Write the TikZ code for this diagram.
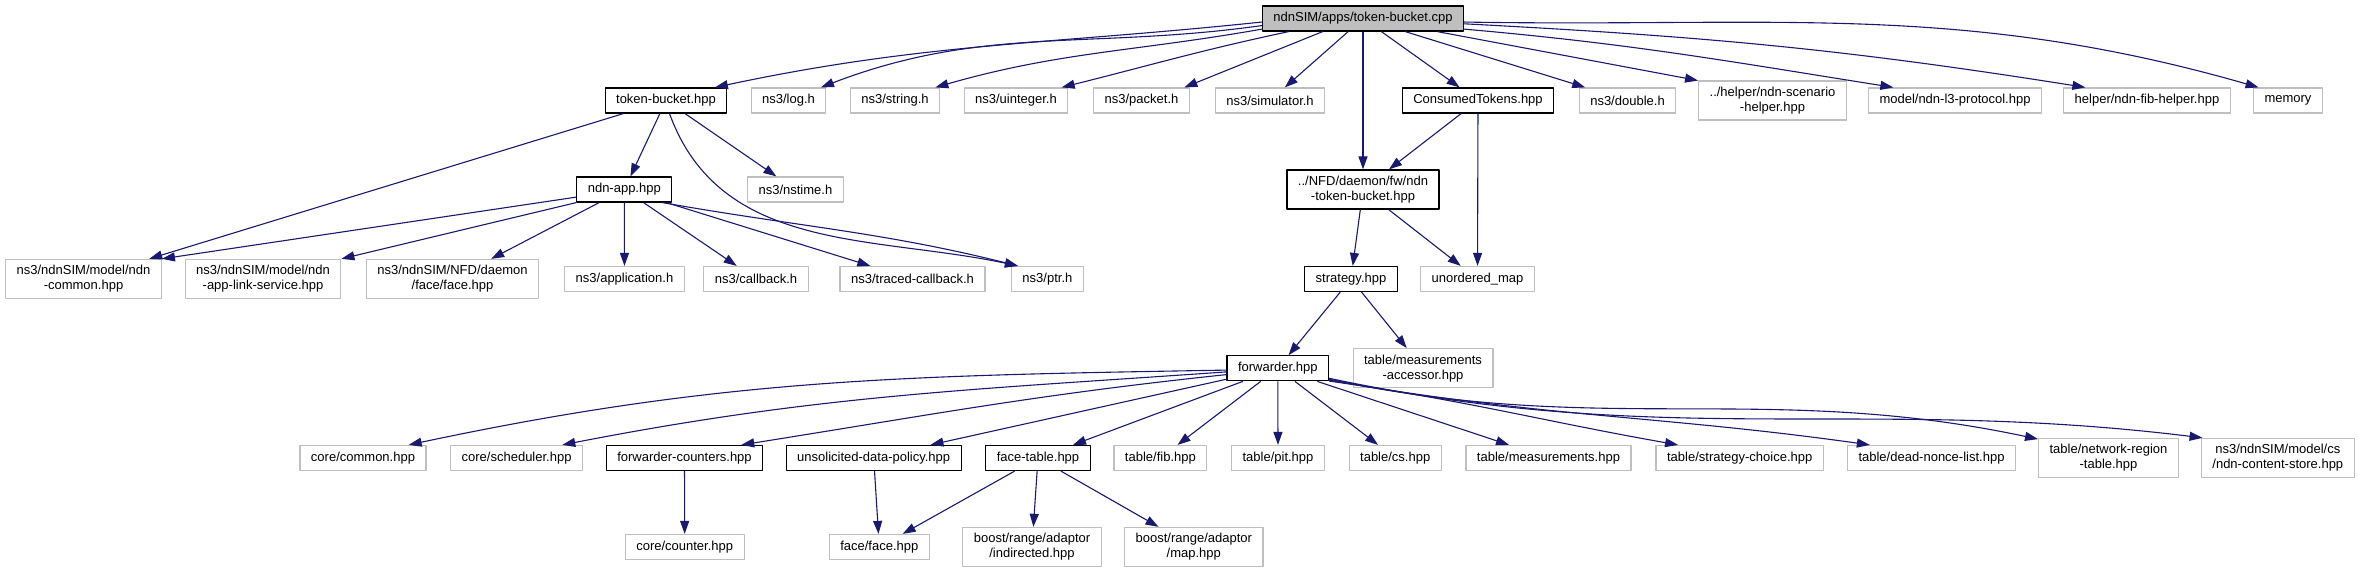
\documentclass[tikz,border=0pt]{standalone}
\usepackage{fontspec}
\setmainfont{Liberation Sans}
\usetikzlibrary{arrows.meta}
\definecolor{edgeblue}{HTML}{191970}
\definecolor{boxgray}{HTML}{BFBFBF}

\begin{document}
\begin{tikzpicture}[x=1pt, y=1pt, line join=round,
    file/.style={draw=boxgray, line width=1.2pt, fill=white,
      font=\fontsize{13}{15}\selectfont, align=center,
      inner xsep=11pt, inner ysep=6pt, minimum height=25pt},
    docfile/.style={file, draw=black},
    dep/.style={draw=edgeblue, line width=1.1pt,
      -{Triangle[length=13pt, width=9pt]}}]

    \useasboundingbox (0,0) rectangle (2359,-573);

    % 各段の高さ
    \pgfmathsetmacro{\yT}{-18.5}
    \pgfmathsetmacro{\yA}{-100.5}
    \pgfmathsetmacro{\yB}{-189.5}
    \pgfmathsetmacro{\yC}{-279}
    \pgfmathsetmacro{\yD}{-368.3}
    \pgfmathsetmacro{\yE}{-458}
    \pgfmathsetmacro{\yF}{-547}

    % ソースファイル
    \node[file, draw=black, fill=boxgray] (top) at (1363,\yT) {ndnSIM/apps/token-bucket.cpp};

    % 1段目
    \node[docfile] (tb) at (666,\yA) {token-bucket.hpp};
    \node[file] (log) at (788.5,\yA) {ns3/log.h};
    \node[file] (str) at (895,\yA) {ns3/string.h};
    \node[file] (uint) at (1016,\yA) {ns3/uinteger.h};
    \node[file] (pkt) at (1141.5,\yA) {ns3/packet.h};
    \node[file] (sim) at (1270,\yA) {ns3/simulator.h};
    \node[docfile] (ct) at (1478,\yA) {ConsumedTokens.hpp};
    \node[file] (dbl) at (1627.5,\yA) {ns3/double.h};
    \node[file] (scen) at (1772.5,\yA) {../helper/ndn-scenario\\-helper.hpp};
    \node[file] (l3) at (1955,\yA) {model/ndn-l3-protocol.hpp};
    \node[file] (fib) at (2147,\yA) {helper/ndn-fib-helper.hpp};
    \node[file] (mem) at (2288,\yA) {memory};

    % 2段目
    \node[docfile] (app) at (624.3,\yB) {ndn-app.hpp};
    \node[file] (nst) at (795.4,\yB) {ns3/nstime.h};
    \node[docfile] (ntb) at (1363,\yB) {../NFD/daemon/fw/ndn\\-token-bucket.hpp};

    % 3段目
    \node[file] (com) at (83.5,\yC) {ns3/ndnSIM/model/ndn\\-common.hpp};
    \node[file] (als) at (263,\yC) {ns3/ndnSIM/model/ndn\\-app-link-service.hpp};
    \node[file] (face) at (452.5,\yC) {ns3/ndnSIM/NFD/daemon\\/face/face.hpp};
    \node[file] (appl) at (624.5,\yC) {ns3/application.h};
    \node[file] (cb) at (756,\yC) {ns3/callback.h};
    \node[file] (tcb) at (912.5,\yC) {ns3/traced-callback.h};
    \node[file] (ptr) at (1047.4,\yC) {ns3/ptr.h};
    \node[docfile] (strat) at (1351,\yC) {strategy.hpp};
    \node[file] (umap) at (1477.5,\yC) {unordered\_map};

    % 4段目
    \node[docfile] (fwd) at (1277.8,\yD) {forwarder.hpp};
    \node[file] (macc) at (1423,\yD) {table/measurements\\-accessor.hpp};

    % 5段目
    \node[file] (ccom) at (363,\yE) {core/common.hpp};
    \node[file] (csch) at (516.6,\yE) {core/scheduler.hpp};
    \node[docfile] (fcnt) at (684.5,\yE) {forwarder-counters.hpp};
    \node[docfile] (udp) at (873.7,\yE) {unsolicited-data-policy.hpp};
    \node[docfile] (ftab) at (1038,\yE) {face-table.hpp};
    \node[file] (tfib) at (1160.4,\yE) {table/fib.hpp};
    \node[file] (tpit) at (1278,\yE) {table/pit.hpp};
    \node[file] (tcs) at (1395.2,\yE) {table/cs.hpp};
    \node[file] (tmeas) at (1548.5,\yE) {table/measurements.hpp};
    \node[file] (tsc) at (1739.7,\yE) {table/strategy-choice.hpp};
    \node[file] (tdnl) at (1931.5,\yE) {table/dead-nonce-list.hpp};
    \node[file] (tnrt) at (2108.5,\yE) {table/network-region\\-table.hpp};
    \node[file] (tcst) at (2277.8,\yE) {ns3/ndnSIM/model/cs\\/ndn-content-store.hpp};

    % 6段目
    \node[file] (ccnt) at (684.7,\yF) {core/counter.hpp};
    \node[file] (ff) at (879.3,\yF) {face/face.hpp};
    \node[file] (ind) at (1032,\yF) {boost/range/adaptor\\/indirected.hpp};
    \node[file] (bmap) at (1193.8,\yF) {boost/range/adaptor\\/map.hpp};

    % まっすぐな矢印
    \foreach \a/\b in {top/sim, top/ntb, top/ct, top/dbl, tb/com, tb/app, tb/nst,
        app/face, app/appl, app/cb, app/tcb, ct/ntb, ct/umap, ntb/strat, ntb/umap,
        strat/fwd, strat/macc, fwd/ftab, fwd/tfib, fwd/tpit, fwd/tcs, fwd/tmeas,
        fcnt/ccnt, udp/ff, ftab/ff, ftab/ind, ftab/bmap}
      \draw[dep] (\a) -- (\b);

    % 曲がった矢印（ソースファイルから）
    \draw[dep] (top.182) to[out=186, in=12] (tb.15);
    \draw[dep] (top.184) to[out=188, in=21] (log.22);
    \draw[dep] (top.186) to[out=190, in=16] (str.18);
    \draw[dep] (top.190) to[out=192, in=14] (uint.16);
    \draw[dep] (top.198) -- (pkt.17);
    \draw[dep] (top.-10) -- (scen.165);
    \draw[dep] (top.-6) to[out=-5, in=171] (l3.168);
    \draw[dep] (top.-3) to[out=-3, in=171] (fib.168);
    \draw[dep] (top.-2) to[out=-1, in=164] (mem.156);

    % token-bucket.hpp と ndn-app.hpp から
    \draw[dep] (tb.-75) to[out=-70, in=168] (ptr.156);
    \draw[dep] (app.189) -- (com.north east);
    \draw[dep] (app.south west) -- (als.north east);
    \draw[dep] (app.-19) to[out=-10, in=166] (ptr.156);

    % forwarder.hpp から
    \draw[dep] (fwd.182) to[out=181, in=12] (ccom.16);
    \draw[dep] (fwd.184) to[out=184, in=11] (csch.16);
    \draw[dep] (fwd.187) to[out=186, in=9] (fcnt.13);
    \draw[dep] (fwd.192) -- (udp.13);
    \draw[dep] (fwd.-14) to[out=-8, in=170] (tsc.168);
    \draw[dep] (fwd.-13) to[out=-10, in=172] (tdnl.168);
    \draw[dep] (fwd.-12) to[out=-12, in=168] (tnrt.165);
    \draw[dep] (fwd.-11) to[out=-12, in=173] (tcst.165);

\end{tikzpicture}
\end{document}
